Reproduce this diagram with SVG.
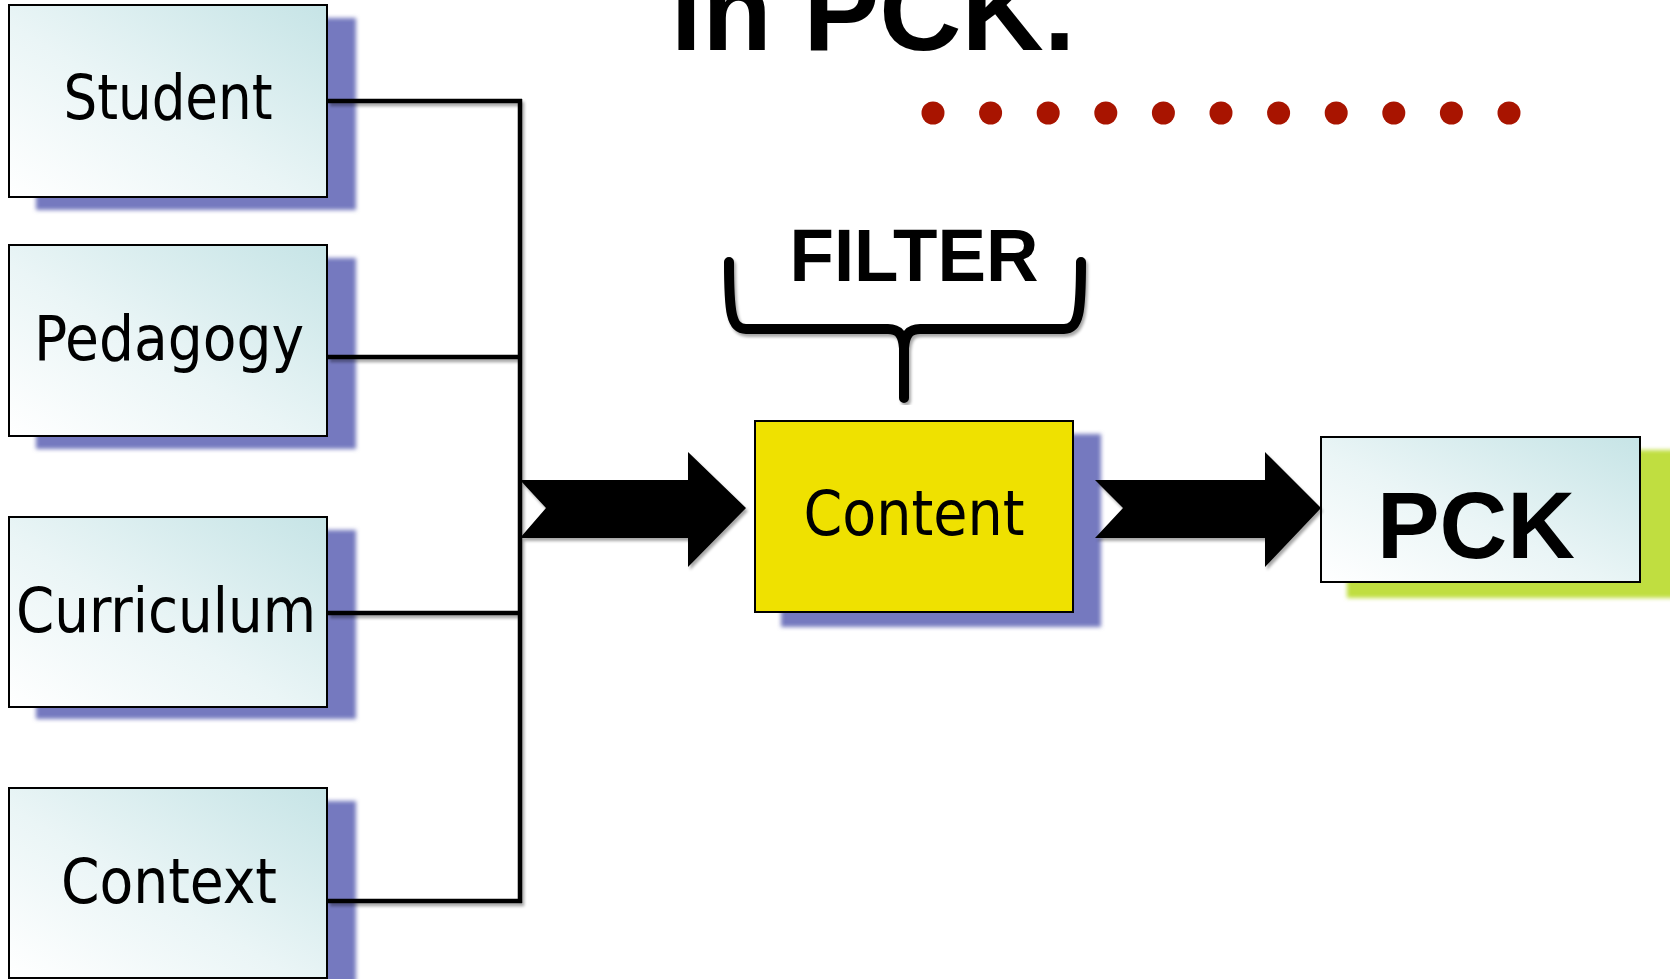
<svg xmlns="http://www.w3.org/2000/svg" width="1670" height="979" viewBox="0 0 1670 979">
<defs>
<linearGradient id="boxGrad" x1="0" y1="1" x2="1" y2="0">
<stop offset="0" stop-color="#FFFFFF"/>
<stop offset="0.45" stop-color="#EAF5F6"/>
<stop offset="1" stop-color="#C6E4E6"/>
</linearGradient>
<filter id="soft" x="-10%" y="-10%" width="120%" height="120%">
<feGaussianBlur stdDeviation="2"/>
</filter>
<filter id="lineShadow" x="-5%" y="-5%" width="110%" height="110%">
<feGaussianBlur in="SourceAlpha" stdDeviation="1.5"/>
<feOffset dx="2" dy="3" result="b"/>
<feComponentTransfer><feFuncA type="linear" slope="0.35"/></feComponentTransfer>
<feMerge><feMergeNode/><feMergeNode in="SourceGraphic"/></feMerge>
</filter>
</defs>
<style>
.box{fill:url(#boxGrad);stroke:#000;stroke-width:2}
.shadow{fill:#7579BF;filter:url(#soft)}
.lbl{font-family:"DejaVu Sans Condensed","DejaVu Sans",sans-serif;font-size:62px;fill:#000;text-anchor:middle}
.bold{font-family:"Liberation Sans",Arial,sans-serif;font-weight:bold;fill:#000;text-anchor:middle}
.conn{stroke:#000;stroke-width:4.5;fill:none}
.dot{fill:#A81400}
</style>

<g id="title">
<text class="bold" x="873" y="50" font-size="114" textLength="405" lengthAdjust="spacingAndGlyphs">in PCK.</text>
</g>

<g id="dots">
<circle class="dot" cx="933" cy="113" r="11.5"/>
<circle class="dot" cx="990.6" cy="113" r="11.5"/>
<circle class="dot" cx="1048.2" cy="113" r="11.5"/>
<circle class="dot" cx="1105.8" cy="113" r="11.5"/>
<circle class="dot" cx="1163.4" cy="113" r="11.5"/>
<circle class="dot" cx="1221" cy="113" r="11.5"/>
<circle class="dot" cx="1278.6" cy="113" r="11.5"/>
<circle class="dot" cx="1336.2" cy="113" r="11.5"/>
<circle class="dot" cx="1393.8" cy="113" r="11.5"/>
<circle class="dot" cx="1451.4" cy="113" r="11.5"/>
<circle class="dot" cx="1509" cy="113" r="11.5"/>
</g>

<g id="student">
<rect class="shadow" x="36" y="18" width="320" height="192"/>
<rect class="box" x="9" y="5" width="318" height="192"/>
<text class="lbl" x="168" y="119" textLength="209" lengthAdjust="spacingAndGlyphs">Student</text>
</g>

<g id="pedagogy">
<rect class="shadow" x="36" y="258" width="320" height="191"/>
<rect class="box" x="9" y="245" width="318" height="191"/>
<text class="lbl" x="169" y="360" textLength="270" lengthAdjust="spacingAndGlyphs">Pedagogy</text>
</g>

<g id="curriculum">
<rect class="shadow" x="36" y="530" width="320" height="189"/>
<rect class="box" x="9" y="517" width="318" height="190"/>
<text class="lbl" x="166" y="632" textLength="300" lengthAdjust="spacingAndGlyphs">Curriculum</text>
</g>

<g id="context">
<rect class="shadow" x="36" y="801" width="320" height="190"/>
<rect class="box" x="9" y="788" width="318" height="190"/>
<text class="lbl" x="169" y="903" textLength="216" lengthAdjust="spacingAndGlyphs">Context</text>
</g>

<g id="filter">
<path d="M729,262 C729,312 731,329 746,329 L888,329 C899,329 903,335 904,348 L904,398 M904,348 C905,335 909,329 920,329 L1064,329 C1079,329 1081,312 1081,262" fill="none" stroke="#000" stroke-width="10" stroke-linecap="round" filter="url(#lineShadow)"/>
<text class="bold" x="914" y="281" font-size="74" textLength="249" lengthAdjust="spacingAndGlyphs">FILTER</text>
</g>

<g id="content">
<rect class="shadow" x="781" y="434" width="320" height="193"/>
<rect x="755" y="421" width="318" height="191" fill="#EFE100" stroke="#000" stroke-width="2"/>
<text class="lbl" x="914" y="535" font-size="63" textLength="221" lengthAdjust="spacingAndGlyphs">Content</text>
</g>

<g id="pck">
<rect x="1347" y="450" width="330" height="148" fill="#C0DE40" filter="url(#soft)"/>
<rect class="box" x="1321" y="437" width="319" height="145"/>
<text class="bold" x="1476" y="558" font-size="95" textLength="198" lengthAdjust="spacingAndGlyphs">PCK</text>
</g>

<g id="connectors" filter="url(#lineShadow)">
<line class="conn" x1="328" y1="101" x2="522" y2="101"/>
<line class="conn" x1="328" y1="357" x2="522" y2="357"/>
<line class="conn" x1="328" y1="613" x2="522" y2="613"/>
<line class="conn" x1="328" y1="901" x2="522" y2="901"/>
<line class="conn" x1="520" y1="99" x2="520" y2="903"/>
<path d="M520,480 L688,480 L688,452 L746,508 L688,567 L688,538 L520,538 L546,508 Z" fill="#000"/>
<path d="M1095,480 L1265,480 L1265,452 L1321,508 L1265,567 L1265,538 L1095,538 L1123,508 Z" fill="#000"/>
</g>
</svg>
